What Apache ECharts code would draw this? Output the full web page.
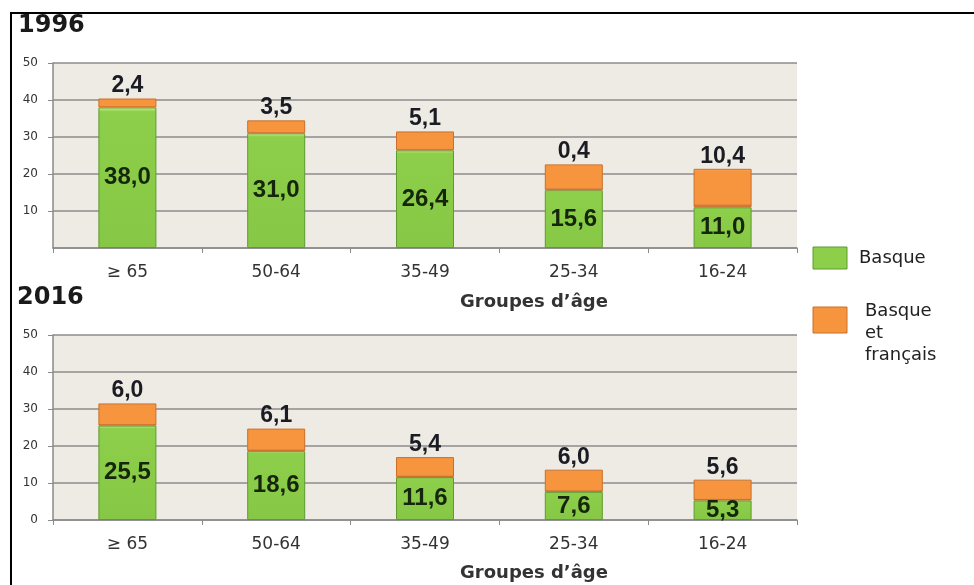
<!DOCTYPE html>
<html>
<head>
<meta charset="utf-8">
<script src="https://cdn.jsdelivr.net/npm/echarts@6/dist/echarts.min.js"></script>
<style>
html,body{margin:0;padding:0;background:#fff;}
#c{width:974px;height:585px;}
</style>
</head>
<body>
<div id="c"></div>
<script>
const categories = ['≥ 65', '50-64', '35-49', '25-34', '16-24'];
const basque1996 = [38.0, 31.0, 26.4, 15.6, 11.0];
const bilingual1996 = [2.4, 3.5, 5.1, 7.0, 10.4];          // heights as drawn
const bilingualLabels1996 = ['2,4', '3,5', '5,1', '0,4', '10,4']; // labels as printed
const basque2016 = [25.5, 18.6, 11.6, 7.6, 5.3];
const bilingual2016 = [6.0, 6.1, 5.4, 6.0, 5.6];
const bilingualLabels2016 = ['6,0', '6,1', '5,4', '6,0', '5,6'];
const yMin = 0, yMax = 50, yStep = 10;
const panelTitles = ['1996', '2016'];
const axisTitle = 'Groupes d\u2019âge';
const legendNames = ['Basque', 'Basque\net\nfrançais'];

const GREEN = '#8dcf4a', GREEN_B = '#5f9a30';
const ORANGE = '#f7953f', ORANGE_B = '#c96f2a';
const fmt = v => v.toFixed(1).replace('.', ',');

const chart = echarts.init(document.getElementById('c'), null, {renderer: 'canvas'});

function xAxisFor(gi) {
  return {
    type: 'category', gridIndex: gi, data: categories,
    axisLine: {lineStyle: {color: '#8a8a8a', width: 1.5}},
    axisTick: {show: true, length: 5, lineStyle: {color: '#8a8a8a'}},
    axisLabel: {color: '#333', fontFamily: 'DejaVu Sans', fontSize: 17, margin: 16}
  };
}
function yAxisFor(gi) {
  return {
    type: 'value', gridIndex: gi, min: yMin, max: yMax, interval: yStep,
    axisLine: {show: true, lineStyle: {color: '#8a8a8a', width: 1.5}},
    axisTick: {show: true, length: 5, lineStyle: {color: '#8a8a8a'}},
    splitLine: {lineStyle: {color: '#8d8d8d', width: 1.5}},
    axisLabel: {color: '#333', fontFamily: 'DejaVu Sans', fontSize: 12, margin: 15,
      showMinLabel: gi === 1}
  };
}
function greenSeries(gi, data) {
  return {
    type: 'bar', xAxisIndex: gi, yAxisIndex: gi, stack: 's' + gi, data: data,
    barWidth: 58,
    itemStyle: {
      color: new echarts.graphic.LinearGradient(0, 0, 0, 1, [
        {offset: 0, color: '#d6ef9c'}, {offset: 0.03, color: GREEN}, {offset: 1, color: '#86c845'}
      ]),
      borderColor: GREEN_B, borderWidth: 1
    },
    label: {show: true, position: 'inside', formatter: p => fmt(p.value),
      color: '#16260c', fontFamily: 'Liberation Sans', fontWeight: 'bold', fontSize: 24}
  };
}
function orangeSeries(gi, data, labels) {
  return {
    type: 'bar', xAxisIndex: gi, yAxisIndex: gi, stack: 's' + gi, data: data,
    barWidth: 58,
    itemStyle: {
      color: new echarts.graphic.LinearGradient(0, 0, 0, 1, [
        {offset: 0, color: '#fbb574'}, {offset: 0.06, color: ORANGE}, {offset: 0.9, color: ORANGE}, {offset: 1, color: '#b8602a'}
      ]),
      borderColor: ORANGE_B, borderWidth: 1
    },
    label: {show: true, position: 'top', distance: 1, formatter: p => labels[p.dataIndex],
      color: '#1b1b24', fontFamily: 'Liberation Sans', fontWeight: 'bold', fontSize: 23}
  };
}

const option = {
  animation: false,
  backgroundColor: '#fff',
  grid: [
    {left: 53, top: 63, width: 744, height: 185, show: true, backgroundColor: '#edebe3', borderWidth: 0},
    {left: 53, top: 335, width: 744, height: 185, show: true, backgroundColor: '#edebe3', borderWidth: 0}
  ],
  xAxis: [xAxisFor(0), xAxisFor(1)],
  yAxis: [yAxisFor(0), yAxisFor(1)],
  series: [
    greenSeries(0, basque1996), orangeSeries(0, bilingual1996, bilingualLabels1996),
    greenSeries(1, basque2016), orangeSeries(1, bilingual2016, bilingualLabels2016)
  ],
  graphic: [
    {type: 'line', shape: {x1: 10, y1: 13, x2: 974, y2: 13}, style: {stroke: '#000', lineWidth: 2}},
    {type: 'line', shape: {x1: 11, y1: 13, x2: 11, y2: 585}, style: {stroke: '#000', lineWidth: 2}},
    {type: 'text', left: 18, top: 14, style: {text: panelTitles[0], fill: '#1a1a1a',
      font: 'bold 24px "DejaVu Sans"'}},
    {type: 'text', left: 17, top: 286, style: {text: panelTitles[1], fill: '#1a1a1a',
      font: 'bold 24px "DejaVu Sans"'}},
    {type: 'text', x: 534, y: 302, style: {text: axisTitle, fill: '#333', align: 'center',
      verticalAlign: 'middle', font: 'bold 18px "DejaVu Sans"'}},
    {type: 'text', x: 534, y: 573, style: {text: axisTitle, fill: '#333', align: 'center',
      verticalAlign: 'middle', font: 'bold 18px "DejaVu Sans"'}},
    {type: 'rect', shape: {x: 813, y: 247, width: 34, height: 22},
      style: {fill: GREEN, stroke: GREEN_B, lineWidth: 1}},
    {type: 'text', x: 859, y: 258, style: {text: legendNames[0], fill: '#222',
      verticalAlign: 'middle', font: '18px "DejaVu Sans"'}},
    {type: 'rect', shape: {x: 813, y: 307, width: 34, height: 26},
      style: {fill: ORANGE, stroke: ORANGE_B, lineWidth: 1}},
    {type: 'text', x: 865, y: 300, style: {text: legendNames[1], fill: '#222',
      verticalAlign: 'top', lineHeight: 22, font: '18px "DejaVu Sans"'}}
  ]
};
chart.setOption(option);
</script>
</body>
</html>
